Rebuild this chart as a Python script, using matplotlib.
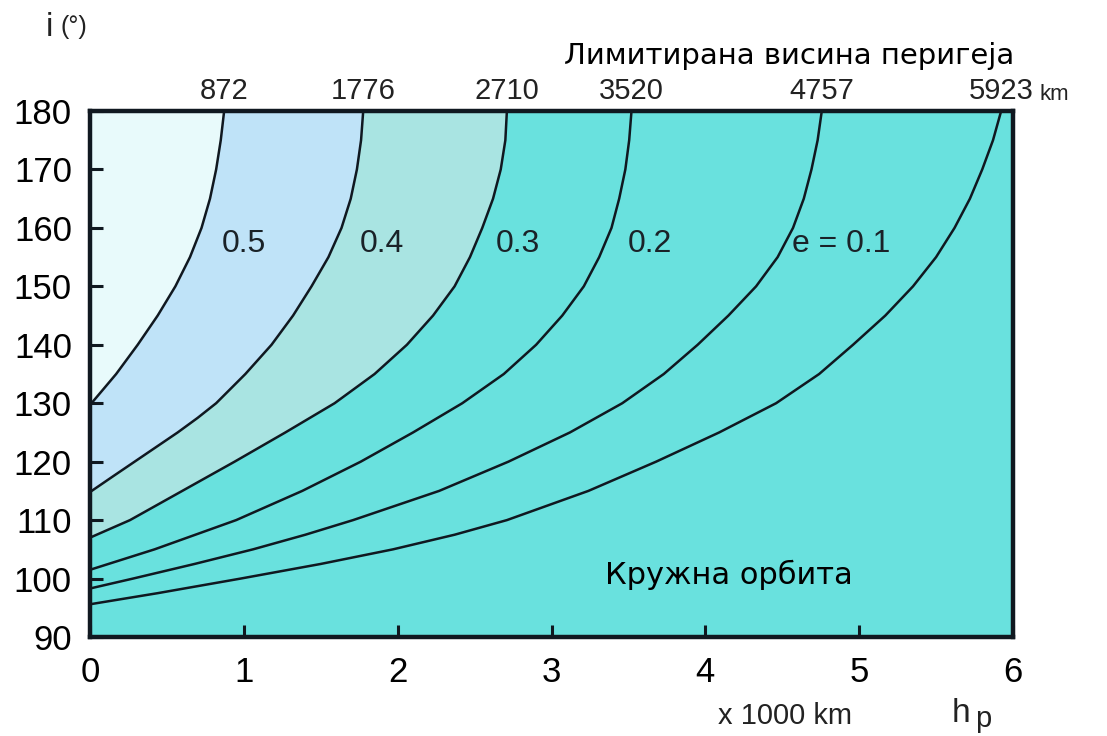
import matplotlib

matplotlib.use("Agg")

import matplotlib.pyplot as plt
import matplotlib.transforms as mtransforms

# Perigee-height limit curves: inclination i (deg) vs h_p (x1000 km)
limit_km = [872, 1776, 2710, 3520, 4757, 5923]

incl_872 = [129.7, 132.5, 135, 140, 145, 150, 155, 160, 165, 170, 175, 180]
hp_872 = [0.0, 0.09, 0.17, 0.31, 0.44, 0.555, 0.65, 0.725, 0.78, 0.82, 0.85, 0.872]

incl_1776 = [114.8, 117.5, 120, 122.5, 125, 127.5, 130, 135, 140, 145, 150, 155, 160, 165, 170, 175, 180]
hp_1776 = [0.0, 0.15, 0.29, 0.43, 0.57, 0.70, 0.82, 1.01, 1.18, 1.32, 1.44, 1.55, 1.635, 1.695, 1.735, 1.762, 1.776]

incl_2710 = [107, 110, 115, 120, 125, 130, 135, 140, 145, 150, 155, 160, 165, 170, 175, 180]
hp_2710 = [0.0, 0.26, 0.60, 0.94, 1.27, 1.59, 1.85, 2.06, 2.23, 2.37, 2.47, 2.55, 2.62, 2.67, 2.70, 2.71]

incl_3520 = [101.5, 103, 105, 110, 115, 120, 125, 130, 135, 140, 145, 150, 155, 160, 165, 170, 175, 180]
hp_3520 = [0.0, 0.18, 0.42, 0.95, 1.38, 1.76, 2.10, 2.42, 2.69, 2.90, 3.07, 3.21, 3.31, 3.39, 3.44, 3.48, 3.505, 3.52]

incl_4757 = [98.3, 100, 102.5, 105, 107.5, 110, 115, 120, 125, 130, 135, 140, 145, 150, 155, 160, 165, 170, 175, 180]
hp_4757 = [0.0, 0.28, 0.68, 1.06, 1.40, 1.71, 2.27, 2.72, 3.12, 3.46, 3.73, 3.95, 4.15, 4.33, 4.47, 4.57, 4.64, 4.69, 4.73, 4.757]

incl_5923 = [95.6, 97.5, 100, 102.5, 105, 107.5, 110, 115, 120, 125, 130, 135, 140, 145, 150, 155, 160, 165, 170, 175, 180]
hp_5923 = [0.0, 0.44, 0.98, 1.50, 1.97, 2.37, 2.71, 3.24, 3.68, 4.09, 4.46, 4.74, 4.96, 5.17, 5.35, 5.50, 5.62, 5.72, 5.80, 5.87, 5.923]

curves = [
    (incl_872, hp_872),
    (incl_1776, hp_1776),
    (incl_2710, hp_2710),
    (incl_3520, hp_3520),
    (incl_4757, hp_4757),
    (incl_5923, hp_5923),
]

# eccentricity labels placed left of their curve
ecc_labels = ["0.5", "0.4", "0.3", "0.2", "e = 0.1"]
ecc_label_x = [1.0, 1.9, 2.78, 3.64, 4.88]
ecc_label_y = 157.3

x_ticks = [0, 1, 2, 3, 4, 5, 6]
y_ticks = [90, 100, 110, 120, 130, 140, 150, 160, 170, 180]

c_white = "#e8fafb"
c_blue = "#bfe3f8"
c_pale = "#a9e4e2"
c_turq = "#69e1de"
c_ink = "#101820"

num_font = "Liberation Sans"

fig = plt.figure(figsize=(11.07, 7.36), dpi=100)
ax = fig.add_axes([90 / 1107, 99 / 736, 923 / 1107, 526 / 736])
ax.set_xlim(0, 6)
ax.set_ylim(90, 180)
ax.set_facecolor(c_turq)

# shaded zones, each one left of its limit curve
ax.fill_betweenx(incl_2710, 0, hp_2710, color=c_pale, lw=0, zorder=1)
ax.fill_betweenx(incl_1776, 0, hp_1776, color=c_blue, lw=0, zorder=1)
ax.fill_betweenx(incl_872, 0, hp_872, color=c_white, lw=0, zorder=1)

for incl, hp in curves:
    ax.plot(hp, incl, color=c_ink, lw=1.8, zorder=3, solid_joinstyle="round")

for txt, x in zip(ecc_labels, ecc_label_x):
    ax.text(x, ecc_label_y, txt, ha="center", va="center", fontsize=23,
            family=num_font, color="#1a2228", zorder=4)

ax.text(3.35, 100.6, "Кружна орбита", ha="left", va="center", fontsize=22,
        family="DejaVu Sans", color="black", zorder=4)

ax.set_xticks(x_ticks)
ax.set_yticks(y_ticks)
ax.tick_params(direction="in", length=9, width=2.2, labelsize=25, color=c_ink)
ax.tick_params(axis="y", pad=13)
ax.tick_params(axis="x", pad=14)
for lab in ax.get_xticklabels() + ax.get_yticklabels():
    lab.set_family(num_font)

for sp in ax.spines.values():
    sp.set_linewidth(3.2)
    sp.set_color(c_ink)
    sp.set_zorder(5)

# limit heights along the top edge
top = mtransforms.blended_transform_factory(ax.transData, ax.transAxes)
for v in limit_km:
    ax.text(v / 1000, 1.012, str(v), transform=top, ha="center", va="bottom",
            fontsize=21, family=num_font, color="#222")
ax.text(6.17, 1.012, "km", transform=top, ha="left", va="bottom",
        fontsize=16, family=num_font, color="#222")

fig.text(564 / 1107, 1 - 56 / 736, "Лимитирана висина перигеја", ha="left",
         va="center", fontsize=21, family="DejaVu Sans", color="black")

fig.text(46 / 1107, 1 - 28 / 736, "i", ha="left", va="center",
         fontsize=24, family=num_font, color="#222")
fig.text(60 / 1107, 1 - 27 / 736, "(°)", ha="left", va="center",
         fontsize=18, family=num_font, color="#222")

fig.text(785 / 1107, 1 - 716 / 736, "x 1000 km", ha="center", va="center",
         fontsize=21, family=num_font, color="#222")
fig.text(952 / 1107, 1 - 713 / 736, "h", ha="left", va="center",
         fontsize=24, family=num_font, color="#222")
fig.text(975 / 1107, 1 - 719 / 736, "p", ha="left", va="center",
         fontsize=21, family=num_font, color="#222")

fig.savefig("out.png", dpi=100)
